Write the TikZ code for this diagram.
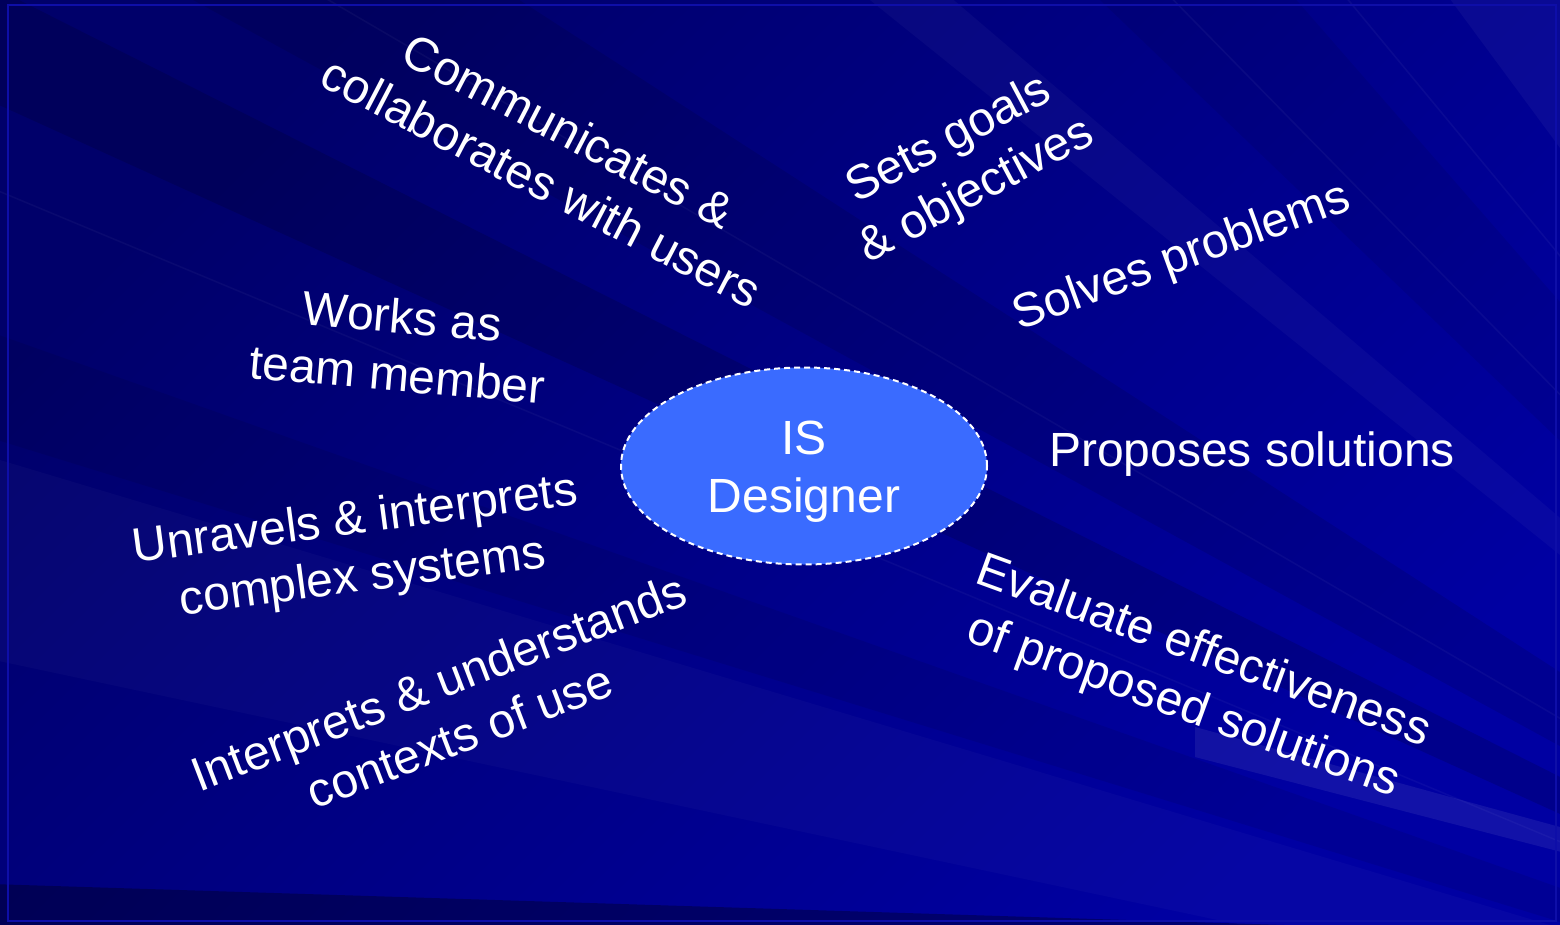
\documentclass[tikz,border=0pt]{standalone}
\usepackage{fontspec}
\setmainfont{Liberation Sans}
\usetikzlibrary{shapes.geometric}
\definecolor{bgdark}{HTML}{00006A}
\definecolor{bglight}{HTML}{0000A2}
\definecolor{hubfill}{HTML}{3A6BFF}
\definecolor{framecol}{HTML}{0E0EA8}
\begin{document}
\begin{tikzpicture}[x=1pt,y=-1pt,
  lbl/.style={text=white, align=center, inner sep=0pt,
    font=\fontsize{48}{58}\selectfont},
  hub/.style={ellipse, fill=hubfill, draw=white, line width=2pt,
    dash pattern=on 6pt off 4pt, minimum width=366pt,
    minimum height=197pt, inner sep=0pt},
  darkray/.style={fill=black, fill opacity=#1},
  lightray/.style={fill=white, fill opacity=#1},
  streak/.style={draw=white, draw opacity=#1, line width=1.5pt}
]
\useasboundingbox (0,0) rectangle (1560,925);

% background: diagonal gradient with faint rays fanning out from the lower right
\begin{scope}
  \clip (0,0) rectangle (1560,925);
  \shade[top color=bgdark, bottom color=bglight, shading angle=45]
    (0,0) rectangle (1560,925);
  \coordinate (src) at (2300,1150);
  \fill[darkray=0.14] (src) -- (-100,-60) -- (-100,60) -- cycle;
  \fill[darkray=0.10] (src) -- (-100,-400) -- (-100,-160) -- cycle;
  \fill[darkray=0.08] (src) -- (-100,300) -- (-100,410) -- cycle;
  \fill[lightray=0.025] (src) -- (-100,430) -- (-100,640) -- cycle;
  \fill[darkray=0.07] (src) -- (-100,-1600) -- (-100,-1150) -- cycle;
  \fill[lightray=0.04] (src) -- (-100,-3200) -- (-100,-2100) -- cycle;
  \fill[lightray=0.03] (src) -- (-100,-900) -- (-100,-780) -- cycle;
  \draw[streak=0.04] (src) -- (-100,-1300);
  \draw[streak=0.04] (src) -- (-100,-1750);
  \draw[streak=0.035] (src) -- (-100,-250);
  \draw[streak=0.035] (src) -- (-100,150);
  % bright band low on the right
  \fill[lightray=0.07] (1195,727) -- (1600,838) -- (1600,862) -- (1195,757) -- cycle;
  % dark strip along the bottom
  \fill[darkray=0.3] (-10,884) -- (1600,935) -- (-10,935) -- cycle;
  % thin frame just inside the edge
  \draw[framecol, line width=1.5pt] (8,5) rectangle (1556,921);
\end{scope}

% central role
\node[hub] (hub) at (804,466) {};
\node[lbl] (hubtext) at (804,472) {IS\\Designer};

% activities around it
\node[lbl, rotate=-27.5] (comm) at (555,156) {Communicates \&\\collaborates with users};
\node[lbl, rotate=28] (goals) at (963,166) {Sets goals\\\& objectives};
\node[lbl, rotate=20] (solve) at (1182,258) {Solves problems};
\node[lbl, rotate=-5] (team) at (400,345) {Works as\\team member};
\node[lbl] (propose) at (1252,454) {Proposes solutions};
\node[lbl, rotate=7.5] (unravel) at (359,550) {Unravels \& interprets\\complex systems};
\node[lbl, rotate=21] (context) at (449,709) {Interprets \& understands\\contexts of use};
\node[lbl, rotate=-20] (evaluate) at (1193,680) {Evaluate effectiveness\\of proposed solutions};
\end{tikzpicture}
\end{document}
